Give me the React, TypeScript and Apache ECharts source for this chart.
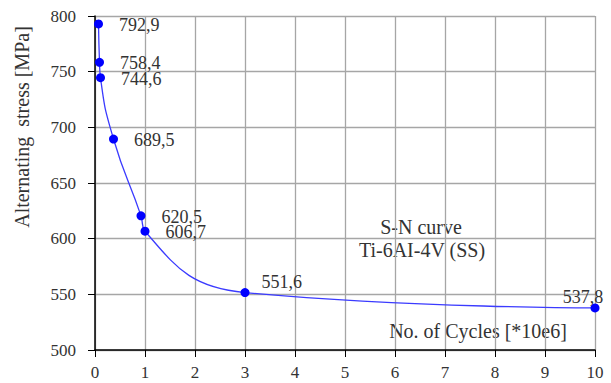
import React, { useEffect, useRef } from "react";
import * as echarts from "echarts";

const cycles = [0.07, 0.09, 0.11, 0.37, 0.92, 1, 3, 10];
const stress = [792.9, 758.4, 744.6, 689.5, 620.5, 606.7, 551.6, 537.8];
const xTitle = "No. of Cycles [*10e6]";
const yTitle = "Alternating  stress [MPa]";
const noteLines = ["S-N curve", "Ti-6AI-4V (SS)"];

const FONT = "Liberation Serif";
const LBL_FONT = "serif";

export default function App() {
  const ref = useRef<HTMLDivElement>(null);
  useEffect(() => {
    if (!ref.current) return;
    const chart = echarts.init(ref.current, null, { renderer: "svg" });
    const data = cycles.map((c, i) => {
      const item: any = { value: [c, stress[i]] };
      if (i === 6) {
        item.label = { position: "right", distance: 12, offset: [0, -11] };
      } else if (i === 7) {
        item.label = { position: "inside", offset: [-12, -11] };
      }
      return item;
    });
    chart.setOption({
      animation: false,
      textStyle: { fontFamily: LBL_FONT },
      grid: { left: 95, right: 16, top: 16, bottom: 33, containLabel: false },
      xAxis: {
        type: "value",
        min: 0,
        max: 10,
        interval: 1,
        axisLine: { show: true, lineStyle: { color: "#000", width: 1.5 } },
        axisTick: { show: true, length: 7, lineStyle: { color: "#000" } },
        axisLabel: { fontFamily: LBL_FONT, fontSize: 17, color: "#333", margin: 14 },
        splitLine: { show: true, lineStyle: { color: "#a6a6a6", width: 1.3 } },
      },
      yAxis: {
        type: "value",
        min: 500,
        max: 800,
        interval: 50,
        axisLine: { show: true, lineStyle: { color: "#000", width: 1.5 } },
        axisTick: { show: true, length: 7, lineStyle: { color: "#000" } },
        axisLabel: { fontFamily: LBL_FONT, fontSize: 17, color: "#333", margin: 19 },
        splitLine: { show: true, lineStyle: { color: "#a6a6a6", width: 1.3 } },
      },
      series: [
        {
          type: "line",
          data,
          smooth: 0.5,
          symbol: "circle",
          symbolSize: 9,
          itemStyle: { color: "#0000ff" },
          lineStyle: { color: "#3b3bff", width: 1.3 },
          label: {
            show: true,
            position: "right",
            distance: 16,
            offset: [0, 1],
            fontFamily: LBL_FONT,
            fontSize: 18,
            color: "#333",
            formatter: (p: any) => String(p.value[1]).replace(".", ","),
          },
        },
      ],
      graphic: [
        {
          type: "text",
          x: 22,
          y: 127,
          rotation: Math.PI / 2,
          style: {
            text: yTitle,
            font: `20px ${FONT}`,
            fill: "#333",
            textAlign: "center",
            textVerticalAlign: "middle",
          },
        },
        {
          type: "text",
          x: 478,
          y: 331,
          style: {
            text: xTitle,
            font: `20px ${FONT}`,
            fill: "#333",
            textAlign: "center",
            textVerticalAlign: "middle",
          },
        },
        {
          type: "text",
          x: 421,
          y: 227,
          style: {
            text: noteLines[0],
            font: `20px ${FONT}`,
            fill: "#333",
            textAlign: "center",
            textVerticalAlign: "middle",
          },
        },
        {
          type: "text",
          x: 422,
          y: 250,
          style: {
            text: noteLines[1],
            font: `20px ${FONT}`,
            fill: "#333",
            textAlign: "center",
            textVerticalAlign: "middle",
          },
        },
      ],
    });
    return () => chart.dispose();
  }, []);
  return <div ref={ref} style={{ width: 611, height: 383, position: "absolute", left: 0, top: 0, background: "#fff" }} />;
}
